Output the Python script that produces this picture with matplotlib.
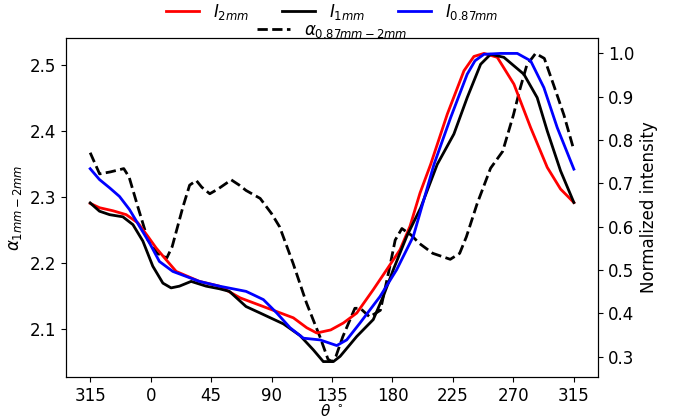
import numpy as np
import matplotlib
matplotlib.use("Agg")
import matplotlib.pyplot as plt

# angle (deg), -45 is shown as 315
theta_alpha = [-45, -38, -30, -20, -16, -9.5, -2, 5, 12, 16, 24, 29, 34, 38, 44, 50, 60, 66,
               71, 81.5, 90, 96, 106, 116, 126, 132, 135, 138, 143, 152, 156, 163, 171, 178,
               182, 187, 194, 200, 210, 223, 230, 235, 243, 253, 262, 270, 275, 280, 286.5,
               293, 300, 307.6, 315]
alpha = [2.367, 2.335, 2.338, 2.343, 2.33, 2.285, 2.235, 2.215, 2.208, 2.225, 2.285, 2.318,
         2.325, 2.315, 2.305, 2.312, 2.326, 2.318, 2.31, 2.298, 2.275, 2.255, 2.20, 2.14,
         2.089, 2.055, 2.0515, 2.06, 2.089, 2.132, 2.132, 2.119, 2.129, 2.195, 2.235, 2.2525,
         2.2425, 2.23, 2.215, 2.206, 2.215, 2.24, 2.29, 2.3436, 2.369, 2.424, 2.464, 2.4995,
         2.517, 2.5095, 2.469, 2.424, 2.371]

theta_2mm = [-45, -38.1, -28.1, -18.2, -9.5, -2.1, 4.1, 11.5, 19.0, 36.3, 51.2, 66.6, 86.4,
             106.2, 116.2, 123.6, 134, 143.4, 153.4, 165.7, 175.7, 185.6, 193, 200.5, 208.4,
             220.8, 233.2, 240.6, 248.1, 258, 270.4, 282.8, 295.2, 305.1, 315]
I_2mm = [0.654, 0.644, 0.637, 0.628, 0.609, 0.578, 0.551, 0.524, 0.497, 0.474, 0.463, 0.436,
         0.413, 0.390, 0.367, 0.355, 0.362, 0.378, 0.401, 0.455, 0.501, 0.547, 0.601, 0.678,
         0.744, 0.860, 0.960, 0.993, 1.0, 0.991, 0.929, 0.829, 0.737, 0.687, 0.656]

theta_1mm = [-45, -38.1, -30.6, -20.7, -13.2, -5.8, 1.6, 9.1, 15.2, 21.4, 30.1, 41.3, 51.2,
             58.6, 71, 81.5, 98.8, 111.2, 121.1, 128.5, 136, 141, 153.4, 165.7, 173.2, 180.6,
             190.6, 201, 213.3, 225.7, 235.6, 245.6, 253, 262.9, 277.8, 287.7, 295.2, 305.1, 315]
I_1mm = [0.655, 0.636, 0.628, 0.623, 0.605, 0.567, 0.509, 0.470, 0.459, 0.463, 0.474, 0.463,
         0.457, 0.451, 0.416, 0.401, 0.376, 0.349, 0.316, 0.289, 0.289, 0.301, 0.347, 0.386,
         0.440, 0.501, 0.578, 0.644, 0.744, 0.814, 0.898, 0.975, 0.998, 0.991, 0.952, 0.898,
         0.821, 0.729, 0.656]

theta_087mm = [-45, -38.1, -30.6, -23.2, -15.8, -8.3, -0.9, 6.5, 16.5, 36.3, 51.2, 71, 76.5,
               83.9, 93.9, 103.8, 113.7, 126.1, 138.5, 145.9, 155.8, 170.7, 183.1, 195.5,
               210.9, 223.3, 235.6, 241.4, 248.1, 260.5, 272.9, 282.8, 292.7, 302.6, 315]
I_087mm = [0.734, 0.709, 0.690, 0.670, 0.640, 0.601, 0.563, 0.520, 0.497, 0.474, 0.463, 0.451,
           0.443, 0.432, 0.401, 0.367, 0.343, 0.339, 0.326, 0.339, 0.378, 0.439, 0.501, 0.578,
           0.744, 0.852, 0.952, 0.983, 0.998, 1.0, 1.0, 0.983, 0.921, 0.829, 0.733]

xticks = [-45, 0, 45, 90, 135, 180, 225, 270, 315]
xticklabels = ["315", "0", "45", "90", "135", "180", "225", "270", "315"]

fig = plt.figure(figsize=(6.75, 4.2), dpi=100)
ax = fig.add_axes([0.0978, 0.1024, 0.7882, 0.8071])
ax2 = ax.twinx()

# alpha on the left axis
l_alpha, = ax.plot(theta_alpha, alpha, "k--", lw=2, label=r"$\alpha_{0.87mm-2mm}$")
ax.set_ylabel(r"$\alpha_{1mm-2mm}$", fontsize=12)
ax.set_xlabel(r"$\theta$ $^\circ$", fontsize=11, labelpad=-1)
ax.set_xticks(xticks)
ax.set_xticklabels(xticklabels)
ax.set_yticks([2.1, 2.2, 2.3, 2.4, 2.5])
ax.tick_params(labelsize=12)

# normalized intensities on the right axis
l2, = ax2.plot(theta_2mm, I_2mm, color="red", lw=2, label=r"$I_{2mm}$")
l1, = ax2.plot(theta_1mm, I_1mm, color="black", lw=2, label=r"$I_{1mm}$")
l087, = ax2.plot(theta_087mm, I_087mm, color="blue", lw=2, label=r"$I_{0.87mm}$")
ax2.set_ylabel("Normalized intensity", fontsize=12)
ax2.set_yticks([0.3, 0.4, 0.5, 0.6, 0.7, 0.8, 0.9, 1.0])
ax2.tick_params(labelsize=12)

cx = 0.0978 + 0.7882 / 2
fig.legend(handles=[l2, l1, l087], loc="center", bbox_to_anchor=(cx, 0.971),
           ncol=3, frameon=False, fontsize=12, borderaxespad=0)
fig.legend(handles=[l_alpha], loc="center", bbox_to_anchor=(cx, 0.927),
           frameon=False, fontsize=12, borderaxespad=0)

fig.savefig("out.png", dpi=100)
